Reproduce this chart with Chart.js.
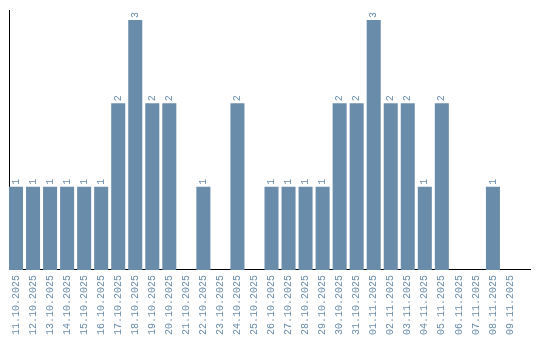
<!DOCTYPE html>
<html>
<head>
<meta charset="utf-8">
<script src="https://cdn.jsdelivr.net/npm/chart.js@4"></script>
<style>
  html, body { margin: 0; padding: 0; background: #fff; }
  #wrap { width: 540px; height: 340px; }
</style>
</head>
<body>
<div id="wrap"><canvas id="chart" width="540" height="340"></canvas></div>
<script>
const days = ['11.10.2025', '12.10.2025', '13.10.2025', '14.10.2025', '15.10.2025',
    '16.10.2025', '17.10.2025', '18.10.2025', '19.10.2025', '20.10.2025',
    '21.10.2025', '22.10.2025', '23.10.2025', '24.10.2025', '25.10.2025',
    '26.10.2025', '27.10.2025', '28.10.2025', '29.10.2025', '30.10.2025',
    '31.10.2025', '01.11.2025', '02.11.2025', '03.11.2025', '04.11.2025',
    '05.11.2025', '06.11.2025', '07.11.2025', '08.11.2025', '09.11.2025'];
const counts = [1, 1, 1, 1, 1, 1, 2, 3, 2, 2,
    0, 1, 0, 2, 0, 1, 1, 1, 1, 2,
    2, 3, 2, 2, 1, 2, 0, 0, 1, 0];

const barColor = '#6a8cab';
const textColor = '#6a8cab';
const monoFont = '"Liberation Mono", "DejaVu Sans Mono", monospace';

// bars sit on a numeric axis (day index) so the axis line can run past the last day
const points = counts.map((c, i) => ({ x: i, y: c }));

// draws the count above each bar, rotated like the ticks
const valueLabels = {
    id: 'valueLabels',
    afterDatasetsDraw(chart) {
        const ctx = chart.ctx;
        const meta = chart.getDatasetMeta(0);
        ctx.save();
        ctx.fillStyle = textColor;
        ctx.font = '10px ' + monoFont;
        ctx.textAlign = 'left';
        ctx.textBaseline = 'middle';
        meta.data.forEach((bar, i) => {
            if (!counts[i]) return;
            ctx.save();
            ctx.translate(bar.x, bar.y - 2);
            ctx.rotate(-Math.PI / 2);
            ctx.fillText(String(counts[i]), 0, 0);
            ctx.restore();
        });
        ctx.restore();
    }
};

const ctx = document.getElementById('chart').getContext('2d');
new Chart(ctx, {
    type: 'bar',
    data: {
        datasets: [{
            data: points,
            backgroundColor: barColor,
            borderWidth: 0,
            barPercentage: 0.8235,
            categoryPercentage: 1.0
        }]
    },
    options: {
        responsive: false,
        animation: false,
        layout: { padding: { left: 9, right: 10, top: 10, bottom: 0 } },
        plugins: {
            legend: { display: false },
            tooltip: { enabled: false }
        },
        scales: {
            x: {
                type: 'linear',
                offset: false,
                min: -0.4118,
                max: 30.176,
                afterBuildTicks(axis) {
                    axis.ticks = days.map((d, i) => ({ value: i }));
                },
                grid: { display: false, drawTicks: false },
                border: { display: true, color: '#000', width: 1 },
                ticks: {
                    color: textColor,
                    font: { family: monoFont, size: 10 },
                    minRotation: 90,
                    maxRotation: 90,
                    autoSkip: false,
                    padding: 5,
                    callback: (v) => days[v]
                }
            },
            y: {
                min: 0,
                max: 3.12,
                grid: { display: false, drawTicks: false },
                border: { display: true, color: '#000', width: 1 },
                ticks: { display: false }
            }
        }
    },
    plugins: [valueLabels]
});
</script>
</body>
</html>
